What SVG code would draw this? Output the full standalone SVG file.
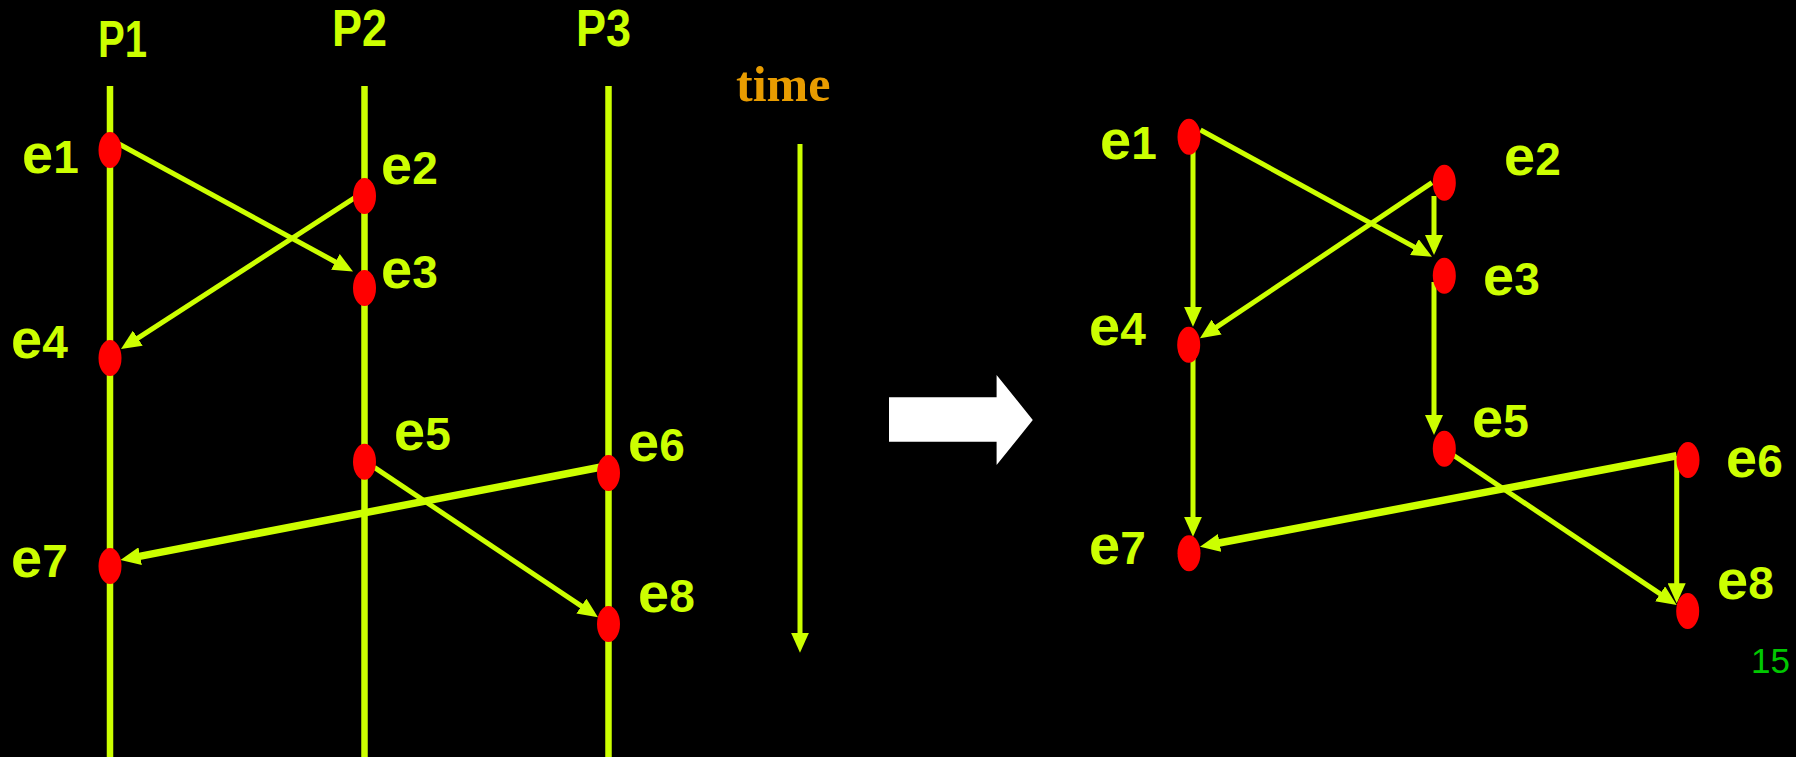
<svg xmlns="http://www.w3.org/2000/svg" width="1796" height="757" viewBox="0 0 1796 757">
<defs>
<style>
.life{stroke:#ccff00;stroke-width:6.5;fill:none}
.edge{stroke:#ccff00;stroke-width:5;fill:none;marker-end:url(#ah)}
.thick{stroke-width:7.5}
.ev{fill:#ff0000}
.lbl{font-family:"Liberation Sans",Arial,sans-serif;font-size:46px;font-weight:bold;fill:#ccff00}
.lbl .e{font-size:56px}
.proc{font-family:"Liberation Sans",Arial,sans-serif;font-size:51px;font-weight:bold;fill:#ccff00}
</style>
<marker id="ah" viewBox="0 0 20 18" refX="10" refY="9" markerWidth="20" markerHeight="18" markerUnits="userSpaceOnUse" orient="auto">
<path d="M0,0 L20,9 L0,18 Z" fill="#ccff00"/>
</marker>
</defs>
<rect x="0" y="0" width="1796" height="757" fill="#000000"/>

<g id="processes">
<text class="proc" x="98" y="57.3" textLength="49" lengthAdjust="spacingAndGlyphs">P1</text>
<text class="proc" x="332" y="46" textLength="55" lengthAdjust="spacingAndGlyphs">P2</text>
<text class="proc" x="576" y="46" textLength="55" lengthAdjust="spacingAndGlyphs">P3</text>
<line class="life" x1="110" y1="86" x2="110" y2="757"/>
<line class="life" x1="364.5" y1="86" x2="364.5" y2="757"/>
<line class="life" x1="608.5" y1="86" x2="608.5" y2="757"/>
</g>

<g id="time">
<text x="736" y="100.7" font-family="'Liberation Serif','Times New Roman',serif" font-size="50" font-weight="bold" fill="#e89c00">time</text>
</g>

<g id="connectors">
<line class="edge" x1="800" y1="144" x2="800" y2="642.7"/>
<line class="edge" x1="119" y1="144" x2="344.2" y2="266.7"/>
<line class="edge" x1="365.7" y1="190.7" x2="129.4" y2="343.6"/>
<line class="edge thick" x1="600" y1="467.3" x2="130.3" y2="558.1"/>
<line class="edge" x1="374.3" y1="467.3" x2="589.7" y2="611.7"/>

<line class="edge" x1="1193" y1="150" x2="1193" y2="316.7"/>
<line class="edge" x1="1200.5" y1="130" x2="1423.2" y2="251.9"/>
<line class="edge" x1="1432" y1="182.7" x2="1208.3" y2="332.7"/>
<line class="edge" x1="1434" y1="196" x2="1434" y2="245"/>
<line class="edge" x1="1434" y1="282" x2="1434" y2="425"/>
<line class="edge" x1="1193" y1="355" x2="1193" y2="526.7"/>
<line class="edge thick" x1="1676.6" y1="455.7" x2="1209.8" y2="544.8"/>
<line class="edge" x1="1453" y1="455" x2="1668.4" y2="599.4"/>
<line class="edge" x1="1676.7" y1="456" x2="1676.7" y2="593.3"/>
</g>

<g id="L-e1"><ellipse class="ev" cx="110" cy="150" rx="11.5" ry="18"/><text class="lbl" x="22" y="172.7"><tspan class="e">e</tspan>1</text></g>
<g id="L-e2"><ellipse class="ev" cx="364.5" cy="196" rx="11.5" ry="18"/><text class="lbl" x="381" y="184"><tspan class="e">e</tspan>2</text></g>
<g id="L-e3"><ellipse class="ev" cx="364.5" cy="288" rx="11.5" ry="18"/><text class="lbl" x="381" y="288"><tspan class="e">e</tspan>3</text></g>
<g id="L-e4"><ellipse class="ev" cx="110" cy="358" rx="11.5" ry="18"/><text class="lbl" x="11" y="358"><tspan class="e">e</tspan>4</text></g>
<g id="L-e5"><ellipse class="ev" cx="364.5" cy="461.7" rx="11.5" ry="18"/><text class="lbl" x="394" y="450"><tspan class="e">e</tspan>5</text></g>
<g id="L-e6"><ellipse class="ev" cx="608.5" cy="473" rx="11.5" ry="18"/><text class="lbl" x="628" y="461"><tspan class="e">e</tspan>6</text></g>
<g id="L-e7"><ellipse class="ev" cx="110" cy="566" rx="11.5" ry="18"/><text class="lbl" x="11" y="577"><tspan class="e">e</tspan>7</text></g>
<g id="L-e8"><ellipse class="ev" cx="608.5" cy="624" rx="11.5" ry="18"/><text class="lbl" x="638" y="611.7"><tspan class="e">e</tspan>8</text></g>

<g id="arrow"><polygon points="889,397.3 996.6,397.3 996.6,375 1032.8,420 996.6,465 996.6,441.7 889,441.7" fill="#ffffff"/></g>

<g id="R-e1"><ellipse class="ev" cx="1189" cy="136.7" rx="11.5" ry="18"/><text class="lbl" x="1100" y="159"><tspan class="e">e</tspan>1</text></g>
<g id="R-e2"><ellipse class="ev" cx="1444.3" cy="182.7" rx="11.5" ry="18"/><text class="lbl" x="1504" y="175"><tspan class="e">e</tspan>2</text></g>
<g id="R-e3"><ellipse class="ev" cx="1444.3" cy="275.7" rx="11.5" ry="18"/><text class="lbl" x="1483" y="295"><tspan class="e">e</tspan>3</text></g>
<g id="R-e4"><ellipse class="ev" cx="1188.7" cy="344.7" rx="11.5" ry="18"/><text class="lbl" x="1089" y="345"><tspan class="e">e</tspan>4</text></g>
<g id="R-e5"><ellipse class="ev" cx="1444.3" cy="448.7" rx="11.5" ry="18"/><text class="lbl" x="1472" y="437"><tspan class="e">e</tspan>5</text></g>
<g id="R-e6"><ellipse class="ev" cx="1688" cy="460" rx="11.5" ry="18"/><text class="lbl" x="1726" y="476.7"><tspan class="e">e</tspan>6</text></g>
<g id="R-e7"><ellipse class="ev" cx="1189" cy="553.3" rx="11.5" ry="18"/><text class="lbl" x="1089" y="564"><tspan class="e">e</tspan>7</text></g>
<g id="R-e8"><ellipse class="ev" cx="1687.7" cy="611" rx="11.5" ry="18"/><text class="lbl" x="1717" y="599"><tspan class="e">e</tspan>8</text></g>

<g id="page"><text x="1751" y="672.7" font-family="'Liberation Sans',Arial,sans-serif" font-size="35" fill="#00c800">15</text></g>
</svg>
